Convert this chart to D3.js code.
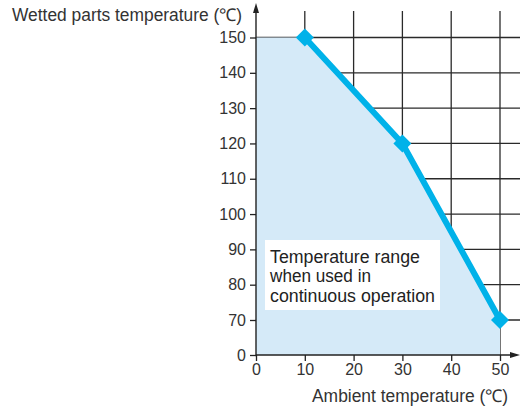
<!DOCTYPE html>
<html><head><meta charset="utf-8">
<script src="https://cdn.jsdelivr.net/npm/d3@7"></script>
<style>body{margin:0;background:#fff}svg{display:block;font-family:"Liberation Sans",Arial,sans-serif}</style>
</head><body><svg id="c" width="520" height="410"></svg>
<script>
const ambient = [10, 30, 50];
const wetted = [150, 120, 70];
const xTicks = [0, 10, 20, 30, 40, 50];
const yTicks = [0, 70, 80, 90, 100, 110, 120, 130, 140, 150];
const rangeLabel = ["Temperature range", "when used in", "continuous operation"];
const rangeLabelWidths = [150, 101, 165];
const xTitle = "Ambient temperature (℃)";
const yTitle = "Wetted parts temperature (℃)";

const svg = d3.select("#c");
const x = d3.scaleLinear().domain([0, 50]).range([256, 500]);
const y = d3.scaleLinear().domain([0, 70, 150]).range([355, 320, 37.5]);

// grid
const g = svg.append("g").attr("stroke", "#2a2a2a").attr("stroke-width", 1.3);
yTicks.filter(d => d > 0).forEach(d => g.append("line").attr("x1", 256).attr("x2", 520).attr("y1", y(d)).attr("y2", y(d)));
xTicks.filter(d => d > 0).forEach(d => g.append("line").attr("x1", x(d)).attr("x2", x(d)).attr("y1", 11).attr("y2", 355));

// fill area
const poly = [[0, 0], [0, 150]].concat(ambient.map((a, i) => [a, wetted[i]])).concat([[50, 0]]);
svg.append("path").attr("d", d3.line().x(d => x(d[0])).y(d => y(d[1]))(poly) + "Z").attr("fill", "#d5eaf8");

// label box
svg.append("rect").attr("x", 265).attr("y", 240).attr("width", 175).attr("height", 70).attr("fill", "#fff");
svg.append("g").selectAll("text").data(rangeLabel).join("text")
  .attr("x", 270).attr("y", (d, i) => 262.5 + i * 19.5).attr("font-size", 17.5).attr("fill", "#222")
  .attr("textLength", (d, i) => rangeLabelWidths[i]).attr("lengthAdjust", "spacingAndGlyphs")
  .text(d => d);

// axes
const ax = svg.append("g").attr("stroke", "#222").attr("stroke-width", 1.4);
ax.append("line").attr("x1", 256).attr("x2", 256).attr("y1", 8).attr("y2", 355);
ax.append("line").attr("x1", 256).attr("x2", 514).attr("y1", 355).attr("y2", 355);
svg.append("path").attr("d", "M256,3 L253,13 L259,13 Z").attr("fill", "#222");
svg.append("path").attr("d", "M520,355 L510,352 L510,358 Z").attr("fill", "#222");

const xAxis = d3.axisBottom(x).tickValues(xTicks).tickSize(6).tickPadding(3).tickSizeOuter(0);
const xg = svg.append("g").attr("transform", "translate(0,355)").call(xAxis);
xg.select(".domain").remove();
xg.selectAll("line").attr("stroke", "#222").attr("stroke-width", 1.3);
xg.selectAll("text").attr("font-size", 16).attr("fill", "#333").attr("font-family", "Liberation Sans, Arial, sans-serif");

const yAxis = d3.axisLeft(y).tickValues(yTicks).tickSize(6).tickPadding(4).tickSizeOuter(0);
const yg = svg.append("g").attr("transform", "translate(256,0)").call(yAxis);
yg.select(".domain").remove();
yg.selectAll("line").attr("stroke", "#222").attr("stroke-width", 1.3);
yg.selectAll("text").attr("font-size", 16).attr("fill", "#333").attr("font-family", "Liberation Sans, Arial, sans-serif");

// line + markers
const pts = ambient.map((a, i) => [a, wetted[i]]);
svg.append("path").attr("d", d3.line().x(d => x(d[0])).y(d => y(d[1]))(pts))
  .attr("fill", "none").attr("stroke", "#00b2e9").attr("stroke-width", 6).attr("stroke-linejoin", "round");
svg.append("g").selectAll("path").data(pts).join("path")
  .attr("transform", d => `translate(${x(d[0])},${y(d[1])})`)
  .attr("d", "M0,-9 L9,0 L0,9 L-9,0 Z")
  .attr("fill", "#00b2e9");

// titles
svg.append("text").attr("x", 12).attr("y", 21).attr("font-size", 17.5).attr("fill", "#333")
  .attr("textLength", 230).attr("lengthAdjust", "spacingAndGlyphs").text(yTitle);
svg.append("text").attr("x", 312).attr("y", 401.5).attr("font-size", 17.5).attr("fill", "#333")
  .attr("textLength", 196).attr("lengthAdjust", "spacingAndGlyphs").text(xTitle);
</script></body></html>
